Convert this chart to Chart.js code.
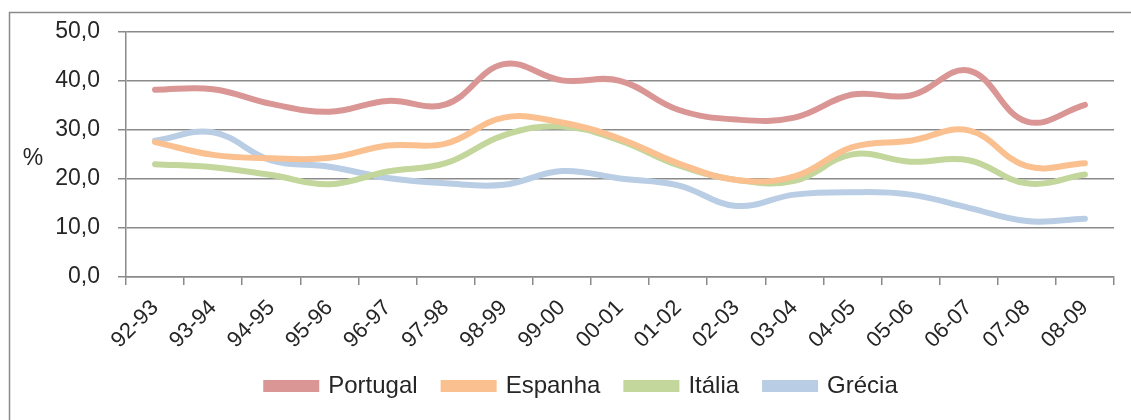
<!DOCTYPE html>
<html>
<head>
<meta charset="utf-8">
<script src="https://cdn.jsdelivr.net/npm/chart.js@4/dist/chart.umd.min.js"></script>
<style>
  html, body { margin: 0; padding: 0; background: #ffffff; }
  #wrap { width: 1131px; height: 420px; position: relative; }
</style>
</head>
<body>
<div id="wrap"><canvas id="chart"></canvas></div>
<script>
// Data
const seasons = ['92-93', '93-94', '94-95', '95-96', '96-97', '97-98', '98-99', '99-00', '00-01',
                 '01-02', '02-03', '03-04', '04-05', '05-06', '06-07', '07-08', '08-09'];
const portugal = [38.2, 38.3, 35.3, 33.7, 35.9, 35.2, 43.4, 40.1, 40.0, 34.1, 32.1, 32.5, 37.2, 37.0, 42.1, 31.7, 35.1];
const espanha  = [27.5, 24.9, 24.2, 24.3, 26.8, 27.2, 32.5, 31.5, 28.2, 23.2, 19.8, 20.5, 26.5, 27.8, 29.9, 22.6, 23.2];
const italia   = [23.0, 22.4, 20.8, 18.9, 21.5, 23.2, 28.9, 30.7, 27.8, 22.8, 19.8, 19.6, 25.0, 23.5, 23.8, 19.1, 20.9];
const grecia   = [27.8, 29.5, 23.8, 22.5, 20.2, 19.1, 18.8, 21.6, 20.1, 18.7, 14.5, 16.8, 17.3, 16.8, 14.1, 11.4, 11.9];
const yTicks = [0, 10, 20, 30, 40, 50];

const FONT = "'Liberation Sans', Arial, sans-serif";
const GRID = '#8a8a8a';
const INK = '#262626';
const PAD_LEFT = 50;

// Outer frame plus the horizontal "%" axis label
const framePlugin = {
    id: 'frame',
    afterDraw(chart) {
        const ctx = chart.ctx;
        ctx.save();
        ctx.strokeStyle = '#8a8a8a';
        ctx.lineWidth = 1.5;
        ctx.strokeRect(9.5, 12.5, 1140, 420);
        ctx.fillStyle = INK;
        ctx.font = '23px ' + FONT;
        ctx.textAlign = 'center';
        ctx.textBaseline = 'middle';
        ctx.fillText('%', 33, 159);
        ctx.restore();
    }
};

function series(label, data, color) {
    return {
        label: label,
        data: data,
        borderColor: color,
        backgroundColor: color,
        borderWidth: 6,
        tension: 0.4,
        pointRadius: 0,
        borderCapStyle: 'round',
        fill: false
    };
}

new Chart(document.getElementById('chart'), {
    type: 'line',
    plugins: [framePlugin],
    data: {
        labels: seasons,
        datasets: [
            series('Portugal', portugal, '#d99694'),
            series('Espanha', espanha, '#fac090'),
            series('Itália', italia, '#c3d69b'),
            series('Grécia', grecia, '#b9cde5')
        ]
    },
    options: {
        responsive: true,
        maintainAspectRatio: false,
        animation: false,
        layout: { padding: { left: PAD_LEFT, right: 17, top: 21, bottom: 12 } },
        plugins: {
            tooltip: { enabled: false },
            legend: {
                position: 'bottom',
                labels: {
                    color: INK,
                    font: { family: FONT, size: 24 },
                    boxWidth: 50,
                    boxHeight: 6,
                    padding: 26
                }
            }
        },
        scales: {
            y: {
                min: 0,
                max: 50,
                afterBuildTicks: (scale) => { scale.ticks = yTicks.map(v => ({ value: v })); },
                afterFit: (scale) => { scale.width = 126 - PAD_LEFT; },
                border: { display: true, color: GRID, width: 1.5 },
                grid: { color: GRID, lineWidth: 1.5, tickLength: 8, drawTicks: true },
                ticks: {
                    color: INK,
                    padding: 18,
                    font: { family: FONT, size: 23 },
                    callback: (v) => v.toFixed(1).replace('.', ',')
                }
            },
            x: {
                offset: true,
                afterFit: (scale) => { scale.height = 71; },
                border: { display: true, color: GRID, width: 1.5 },
                grid: { display: true, drawOnChartArea: false, offset: true, color: GRID, lineWidth: 1.5, tickLength: 8 },
                ticks: {
                    color: INK,
                    padding: 10,
                    minRotation: 45,
                    maxRotation: 45,
                    autoSkip: false,
                    font: { family: FONT, size: 22 }
                }
            }
        }
    }
});
</script>
</body>
</html>
